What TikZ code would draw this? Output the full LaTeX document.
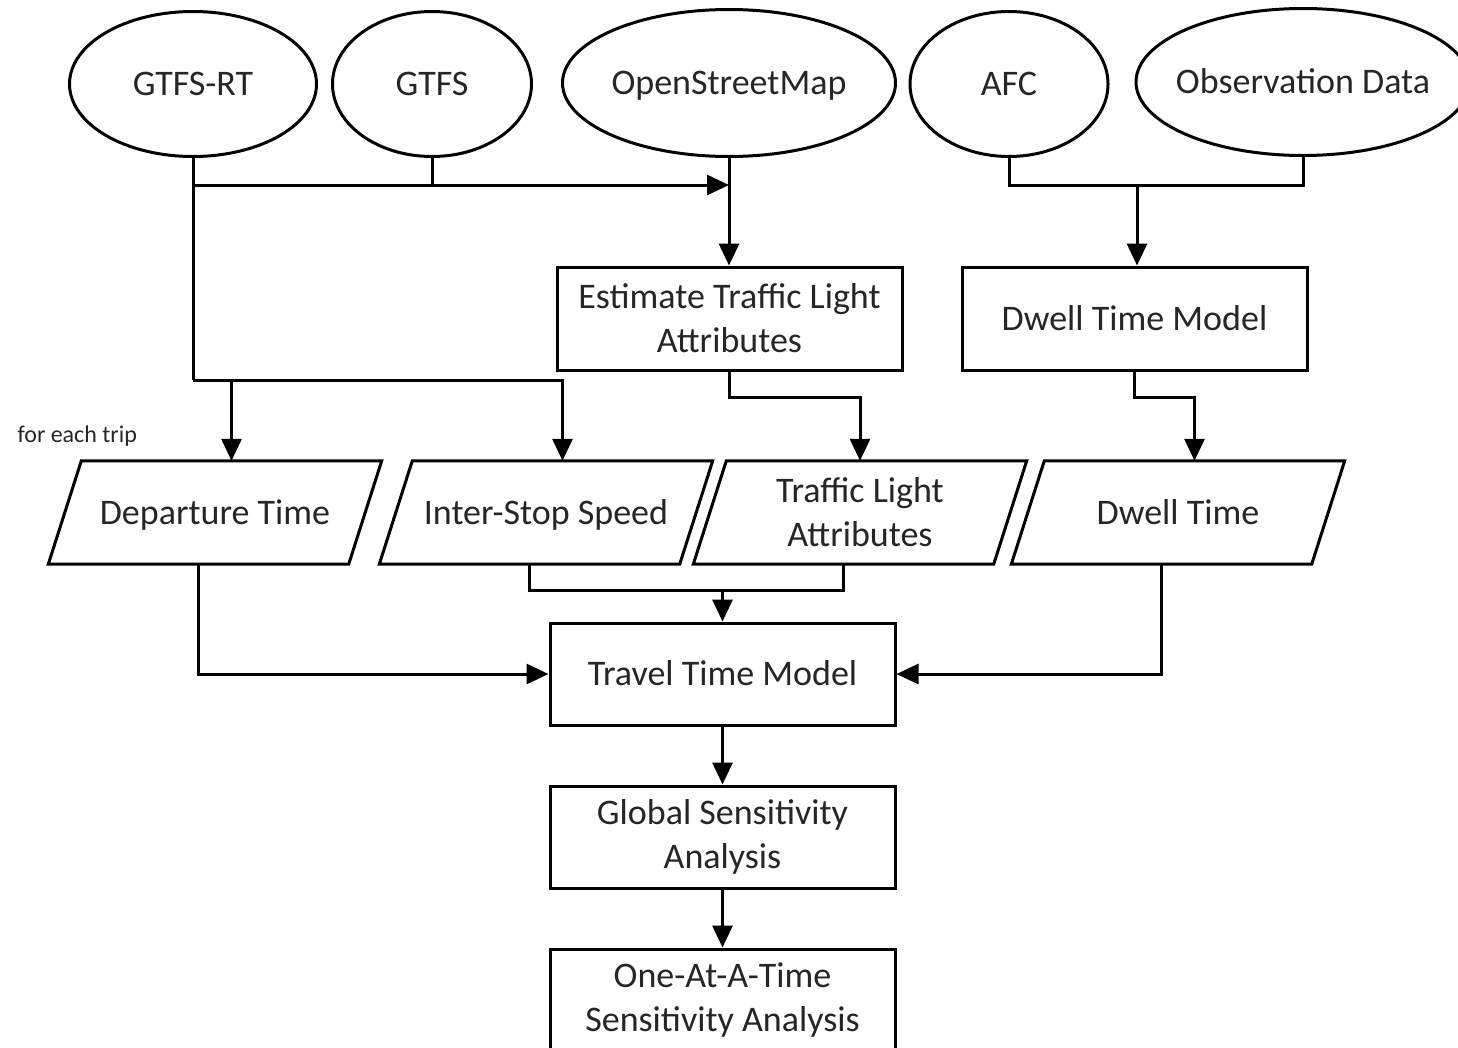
\documentclass[tikz,border=0pt]{standalone}
\usepackage{fontspec}
\setmainfont{Carlito}
\usetikzlibrary{shapes.geometric,arrows.meta}

\begin{document}
\begin{tikzpicture}[x=1pt,y=-1pt,
  every node/.style={font=\fontsize{36}{44}\selectfont, text=black!85, align=center},
  oneline/.style={text height=28.8pt, text depth=5.6pt},
  src/.style={ellipse, draw=black, line width=3pt, inner sep=0pt, oneline},
  proc/.style={rectangle, draw=black, line width=3pt, minimum width=345pt, minimum height=103pt, inner sep=0pt},
  dat/.style={rectangle, minimum width=300pt, minimum height=103pt, inner sep=0pt},
  wire/.style={line width=3pt, draw=black, line join=miter},
  feed/.style={wire, -{Triangle[width=20pt,length=22pt]}},
]
\useasboundingbox[fill=white] (0,0) rectangle (1458,1047);

% data sources
\node[src, minimum width=247pt, minimum height=145pt] (gtfsrt) at (193,84) {GTFS-RT};
\node[src, minimum width=199pt, minimum height=145pt] (gtfs) at (432,84) {GTFS};
\node[src, minimum width=333pt, minimum height=147pt, inner xsep=-20pt] (osm) at (729,83) {OpenStreetMap};
\node[src, minimum width=198pt, minimum height=145pt] (afc) at (1009,84) {AFC};
\node[src, minimum width=334pt, minimum height=147pt, inner xsep=-20pt] (obs) at (1303,82) {Observation Data};

% processing steps
\node[proc] (eta) at (729.5,318.5) {Estimate Traffic Light\\Attributes};
\node[proc, oneline] (dtm) at (1134.5,318.5) {Dwell Time Model};
\node[proc, oneline, minimum height=102pt] (ttm) at (722.5,674) {Travel Time Model};
\node[proc, minimum height=102pt] (gsa) at (722.5,837) {Global Sensitivity\\Analysis};
\node[proc, minimum height=102pt] (oat) at (722.5,1000) {One-At-A-Time\\Sensitivity Analysis};

% per-trip inputs (parallelograms)
\node[dat, oneline] (dep) at (215,512.5) {Departure Time};
\node[dat, oneline] (iss) at (546,512.5) {Inter-Stop Speed};
\node[dat] (tla) at (860,512.5) {Traffic Light\\Attributes};
\node[dat, oneline] (dwt) at (1178,512.5) {Dwell Time};
\foreach \n in {dep,iss,tla,dwt}{
  \draw[wire] ([xshift=16.5pt]\n.north west) -- ([xshift=16.5pt]\n.north east)
    -- ([xshift=-16.5pt]\n.south east) -- ([xshift=-16.5pt]\n.south west) -- cycle;
}

\node[font=\fontsize{24}{28}\selectfont, anchor=west] (trip) at (14,436) {for each trip};

% connection points
\coordinate (busT) at (0,185);
\coordinate (busA) at (0,380);
\coordinate (busE) at (0,397);
\coordinate (busB) at (0,590);
\coordinate (depin) at ([xshift=16.5pt]dep.north);
\coordinate (issin) at ([xshift=16.5pt]iss.north);
\coordinate (dwtin) at ([xshift=16.5pt]dwt.north);
\coordinate (dtmin) at ([xshift=2.5pt]dtm.north);
\coordinate (depout) at ([xshift=-16.5pt]dep.south);
\coordinate (issout) at ([xshift=-16.5pt]iss.south);
\coordinate (tlaout) at ([xshift=-16.5pt]tla.south);
\coordinate (dwtout) at ([xshift=-16.5pt]dwt.south);

% GTFS-RT, GTFS and OpenStreetMap to the traffic light estimate
\draw[wire] (gtfsrt.south) -- (gtfsrt.south |- busA);
\draw[feed] (gtfsrt.south |- busT) -- (osm.south |- busT);
\draw[wire] (gtfs.south) -- (gtfs.south |- busT);
\draw[feed] (osm.south) -- (osm.south |- eta.north);

% GTFS-RT to departure time and inter-stop speed
\draw[feed] (gtfsrt.south |- busA) -| (issin);
\draw[feed] (depin |- busA) -- (depin);

% AFC and observations to the dwell time model
\draw[wire] (afc.south) -- (afc.south |- busT) -- (obs.south |- busT) -- (obs.south);
\draw[feed] (dtmin |- busT) -- (dtmin);

% models to their outputs
\draw[feed] (eta.south) -- (eta.south |- busE) -| (tla.north);
\draw[feed] (dtm.south) -- (dtm.south |- busE) -| (dwtin);

% inputs to the travel time model
\draw[wire] (issout) -- (issout |- busB) -- (tlaout |- busB) -- (tlaout);
\draw[feed] (ttm.north |- busB) -- (ttm.north);
\draw[feed] (depout) |- (ttm.west);
\draw[feed] (dwtout) |- (ttm.east);

% analysis chain
\draw[feed] (ttm.south) -- (gsa.north);
\draw[feed] (gsa.south) -- (oat.north);
\end{tikzpicture}
\end{document}
